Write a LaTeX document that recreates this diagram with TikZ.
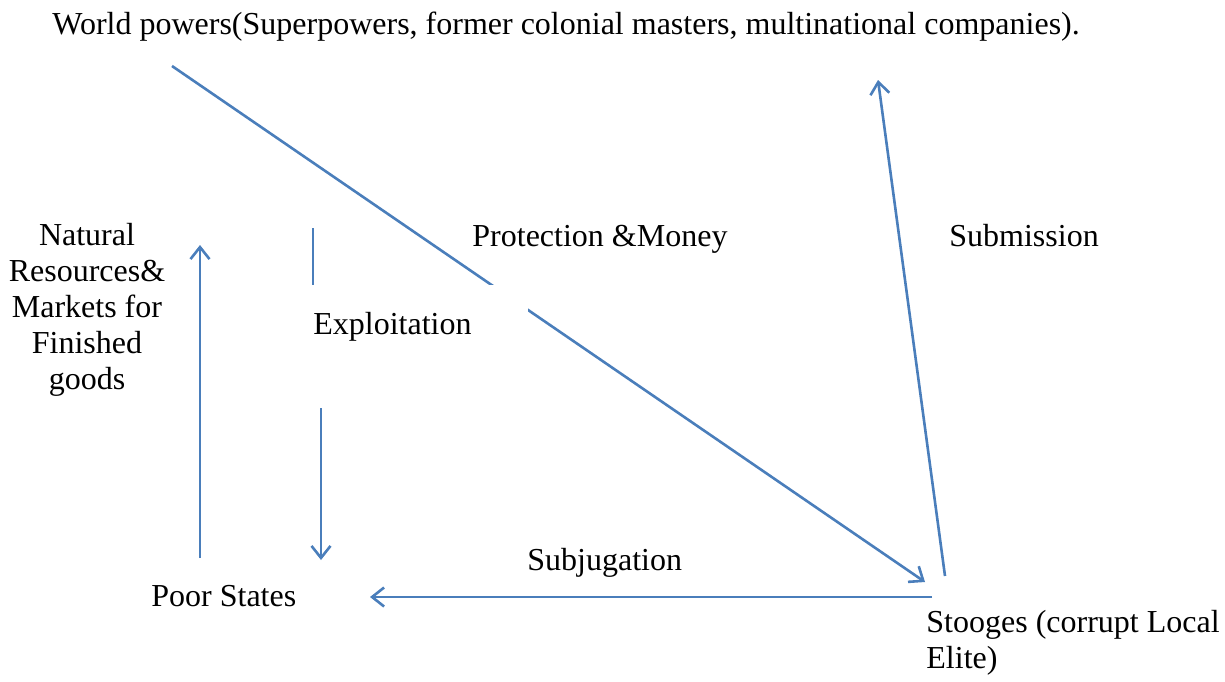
\documentclass[tikz,border=0pt]{standalone}
\usepackage{fontspec}
\setmainfont{Liberation Serif}
\usetikzlibrary{arrows.meta}
\definecolor{lineblue}{HTML}{4A7EBB}
\begin{document}
\begin{tikzpicture}[x=0.5pt,y=-0.5pt,
  lbl/.style={inner sep=0pt, font=\fontsize{16}{18}\selectfont},
  conn/.style={draw=lineblue, line width=1.3pt},
  arr/.style={conn, -{Straight Barb[length=6pt,width=9.5pt,line width=1.3pt]}}]
\useasboundingbox (0,0) rectangle (1225,681);
% text nodes
\node[lbl, anchor=west] (world) at (52,27) {World powers(Superpowers, former colonial masters, multinational companies).};
\node[lbl, align=center] (nat) at (87,310) {Natural\\Resources\&\\Markets for\\Finished\\goods};
\node[lbl, anchor=west] (prot) at (472,239) {Protection \&Money};
\node[lbl, anchor=west] (subm) at (949,236) {Submission};
\node[lbl, anchor=west] (subj) at (527,563) {Subjugation};
\node[lbl, anchor=west] (poor) at (151,596) {Poor States};
\node[lbl, anchor=north west, align=left] (stoo) at (926,610) {Stooges (corrupt Local\\Elite)};
% anchor coordinates
\coordinate (dA) at (172,66);
\coordinate (dB) at (925,582);
\coordinate (sA) at (945,576);
\coordinate (sB) at (878,80);
\coordinate (jA) at (932,597);
\coordinate (jB) at (370,597);
\coordinate (uA) at (200,558);
\coordinate (uB) at (200,245);
\coordinate (eA) at (313,228);
\coordinate (eB) at (313,285);
\coordinate (fA) at (321,408);
\coordinate (fB) at (321,560);
% connectors
\draw[arr] (dA) -- (dB);
\draw[arr] (sA) -- (sB);
\draw[arr] (jA) -- (jB);
\draw[arr] (uA) -- (uB);
\draw[conn] (eA) -- (eB);
\draw[arr] (fA) -- (fB);
% white text box of "Exploitation" hiding part of the diagonal
\fill[white] (300,285) rectangle (528,408);
\node[lbl, anchor=west] (expl) at (313,327) {Exploitation};
\end{tikzpicture}
\end{document}
